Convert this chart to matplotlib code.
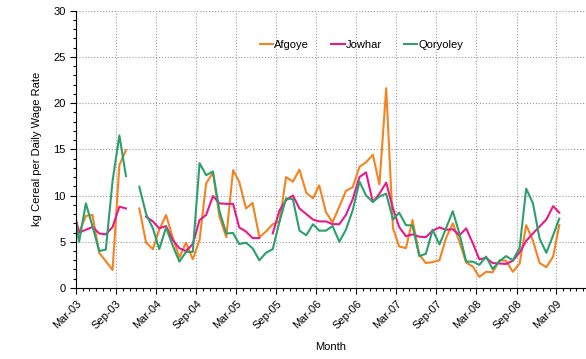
import numpy as np
import pandas as pd
import matplotlib
matplotlib.use('Agg')
import matplotlib.pyplot as plt
import matplotlib.dates as mdates

nan = np.nan

# monthly values Feb-03 .. Mar-09 (plotted mid-month)
months = pd.date_range('2003-02-01', '2009-03-01', freq='MS') + pd.Timedelta(days=14)

afgoye = [nan, 6.0, 7.8, 7.9, 3.8, 2.9, 1.95, 13.3, 14.9, nan, 8.6,
          4.9, 4.2, 6.3, 7.9, 5.5, 3.3, 4.9, 3.1, 5.2, 11.3, 12.5, 7.7,
          5.5, 12.75, 11.5, 8.6, 9.2, 5.5, 6.1, 6.9, 7.2, 12.0, 11.5, 12.8,
          10.3, 9.7, 11.1, 8.2, 7.1, 8.8, 10.5, 10.9, 13.1, 13.6, 14.4, 11.2,
          21.6, 6.45, 4.5, 4.3, 7.35, 3.6, 2.7, 2.8, 3.0, 5.4, 7.0, 5.0,
          2.75, 2.3, 1.2, 1.75, 1.7, 3.0, 2.95, 1.75, 2.65, 6.8, 5.1, 2.7,
          2.25, 3.4, 6.8]

jowhar = [8.7, 6.0, 6.3, 6.6, 5.9, 5.8, 6.6, 8.8, 8.6, nan, nan,
          7.7, 7.2, 6.45, 6.7, 5.2, 4.3, 4.0, 4.75, 7.35, 7.9, 9.95, 9.15,
          9.1, 9.1, 6.55, 6.1, 5.4, 5.4, nan, 5.9, 8.4, 9.5, 10.0, 8.6,
          8.0, 7.4, 7.2, 7.2, 6.9, 6.9, 7.9, 9.6, 12.0, 12.5, 9.3, 10.2,
          11.4, 8.6, 6.6, 5.6, 5.8, 5.55, 5.5, 6.2, 6.55, 6.3, 6.35, 5.7,
          6.45, 4.8, 3.1, 3.25, 2.7, 2.65, 2.6, 2.95, 3.85, 5.1, 5.9, 6.65,
          7.4, 8.85, 8.15]

qoryoley = [9.0, 5.0, 9.15, 6.7, 4.0, 4.15, 11.6, 16.5, 12.1, nan, 10.95,
            8.0, 6.45, 4.2, 6.55, 4.6, 2.85, 3.9, 3.9, 13.5, 12.2, 12.6, 8.3,
            5.9, 5.95, 4.75, 4.9, 4.3, 3.0, 3.8, 4.2, 7.2, 9.7, 9.6, 6.2,
            5.7, 6.9, 6.2, 6.2, 6.7, 5.0, 6.3, 8.4, 11.5, 10.0, 9.3, 9.9,
            10.2, 7.4, 8.15, 6.8, 6.75, 3.45, 3.7, 6.3, 4.7, 6.45, 8.3, 5.9,
            2.85, 2.85, 2.5, 3.4, 2.05, 2.9, 3.45, 3.0, 4.35, 10.75, 9.15, 5.35,
            3.8, 5.7, 7.5]

plt.rcParams['font.family'] = ['Liberation Sans', 'DejaVu Sans']

fig = plt.figure(figsize=(5.86, 3.59), dpi=100)
ax = fig.add_axes([0.1297, 0.1978, 0.8703, 0.7727])

ax.plot(months, afgoye, color='#F5821F', lw=1.5, label='Afgoye')
ax.plot(months, jowhar, color='#E8198B', lw=1.5, label='Jowhar')
ax.plot(months, qoryoley, color='#2BA06C', lw=1.5, label='Qoryoley')

ax.set_xlim(pd.Timestamp('2003-03-01'), pd.Timestamp('2009-07-15'))
ax.set_ylim(0, 30)

ax.xaxis.set_major_locator(mdates.MonthLocator(bymonth=[3, 9]))
ax.xaxis.set_minor_locator(mdates.MonthLocator())
ax.xaxis.set_major_formatter(mdates.DateFormatter('%b-%y'))
ax.set_yticks(range(0, 31, 5))
ax.set_yticks(range(0, 31), minor=True)

ax.tick_params(axis='both', which='major', labelsize=8, length=4, width=0.8)
ax.tick_params(axis='both', which='minor', length=2, width=0.8)
plt.setp(ax.get_xticklabels(), rotation=45, ha='right', rotation_mode='anchor')

ax.grid(True, which='major', linestyle=':', color='#999999', lw=0.8)
ax.spines['top'].set_visible(False)
ax.spines['right'].set_visible(False)

ax.set_xlabel('Month', fontsize=8, labelpad=8)
ax.set_ylabel('kg Cereal per Daily Wage Rate', fontsize=8, labelpad=8)

ax.legend(loc='center', bbox_to_anchor=(0.56, 0.876), ncol=3, frameon=False,
          fontsize=8, handlelength=1.2, handletextpad=0.1, columnspacing=2.0)

fig.savefig('out.png', dpi=100)
